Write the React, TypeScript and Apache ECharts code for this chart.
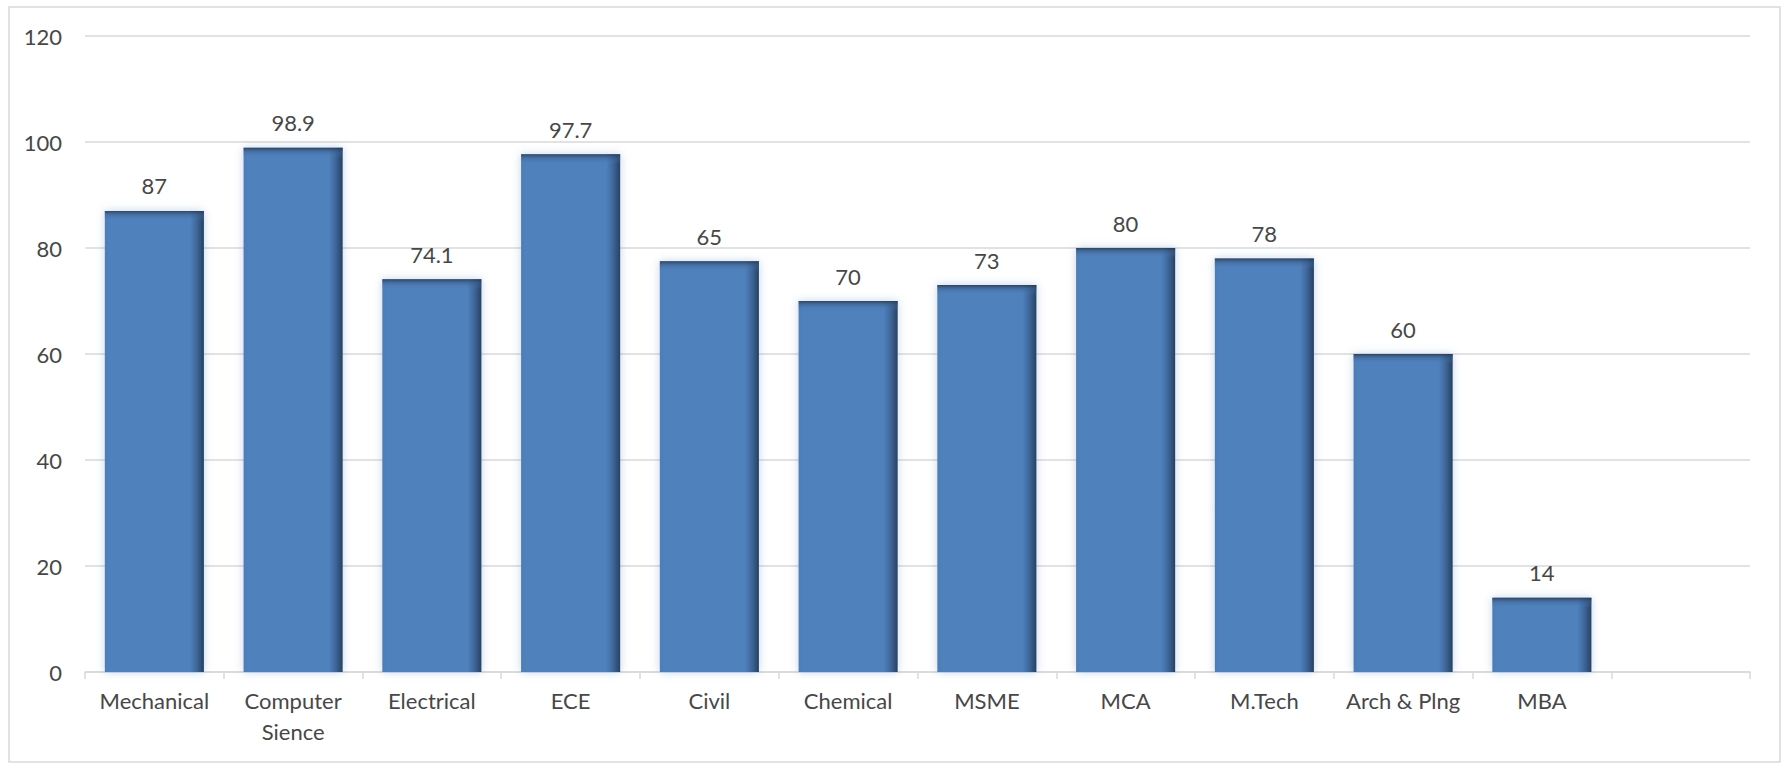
import React, { useEffect, useRef } from "react";
import * as echarts from "echarts";

const categories = ["Mechanical", "Computer\nSience", "Electrical", "ECE", "Civil", "Chemical", "MSME", "MCA", "M.Tech", "Arch & Plng", "MBA", ""];
const values: (number | null)[] = [87, 98.9, 74.1, 97.7, 77.5, 70, 73, 80, 78, 60, 14, null];
const valueLabels = ["87", "98.9", "74.1", "97.7", "65", "70", "73", "80", "78", "60", "14", ""];
const yTicks = [0, 20, 40, 60, 80, 100, 120];

const FONT = "Lato, 'Open Sans', sans-serif";
const TEXT = "#474747";
const GRIDC = "#d9d9d9";
const BAR_FRAC = 0.714;

export default function App() {
  const ref = useRef<HTMLDivElement>(null);
  useEffect(() => {
    if (!ref.current) return;
    const chart = echarts.init(ref.current, null, { renderer: "svg" });
    const barGrad = new echarts.graphic.LinearGradient(0, 0, 1, 0, [
      { offset: 0, color: "#4c7db9" },
      { offset: 0.05, color: "#4F81BD" },
      { offset: 0.86, color: "#4F81BD" },
      { offset: 0.93, color: "#3e6698" },
      { offset: 1, color: "#27415f" },
    ]);
    chart.setOption({
      animation: false,
      backgroundColor: "#ffffff",
      graphic: [
        {
          type: "rect",
          shape: { x: 9, y: 7, width: 1771, height: 755 },
          style: { fill: "none", stroke: GRIDC, lineWidth: 1.5 },
          silent: true,
          z: -1,
        },
      ],
      grid: { left: 85, right: 33, top: 36, bottom: 91, containLabel: false },
      xAxis: {
        type: "category",
        data: categories,
        boundaryGap: true,
        axisLine: { show: true, lineStyle: { color: GRIDC, width: 1.5 } },
        axisTick: { show: true, length: 7, lineStyle: { color: GRIDC, width: 1.5 }, alignWithLabel: false },
        axisLabel: {
          interval: 0,
          color: TEXT,
          fontFamily: FONT,
          fontSize: 22,
          lineHeight: 31,
          margin: 13,
        },
      },
      yAxis: {
        type: "value",
        min: yTicks[0],
        max: yTicks[yTicks.length - 1],
        interval: 20,
        axisLine: { show: false },
        axisTick: { show: false },
        splitLine: { lineStyle: { color: GRIDC, width: 1.5 } },
        axisLabel: { color: TEXT, fontFamily: FONT, fontSize: 22, margin: 23 },
      },
      series: [
        {
          type: "bar",
          data: values.map((v) => (v === null ? "-" : v)),
          barCategoryGap: "28.6%",
          itemStyle: {
            color: barGrad,
            shadowColor: "rgba(79,129,189,0.35)",
            shadowBlur: 9,
          },
          label: {
            show: true,
            position: "top",
            distance: 14,
            color: TEXT,
            fontFamily: FONT,
            fontSize: 22,
            formatter: (p: any) => valueLabels[p.dataIndex],
          },
          z: 2,
        },
        {
          type: "custom",
          silent: true,
          z: 3,
          data: values
            .map((v, i) => (v === null ? null : [i, v]))
            .filter((d) => d !== null),
          renderItem: (params: any, api: any) => {
            const idx = api.value(0);
            const v = api.value(1);
            const top = api.coord([idx, v]);
            const w = api.size([1, 0])[0] * BAR_FRAC;
            return {
              type: "rect",
              shape: { x: top[0] - w / 2, y: top[1], width: w, height: 10 },
              style: {
                fill: new echarts.graphic.LinearGradient(0, 0, 0, 1, [
                  { offset: 0, color: "rgba(35,58,88,0.85)" },
                  { offset: 0.35, color: "rgba(55,90,135,0.5)" },
                  { offset: 1, color: "rgba(79,129,189,0)" },
                ]),
              },
            };
          },
        },
      ],
    });
    return () => chart.dispose();
  }, []);
  return (
    <div
      ref={ref}
      style={{ position: "fixed", left: 0, top: 0, width: 1783, height: 763, background: "#fff" }}
    />
  );
}
